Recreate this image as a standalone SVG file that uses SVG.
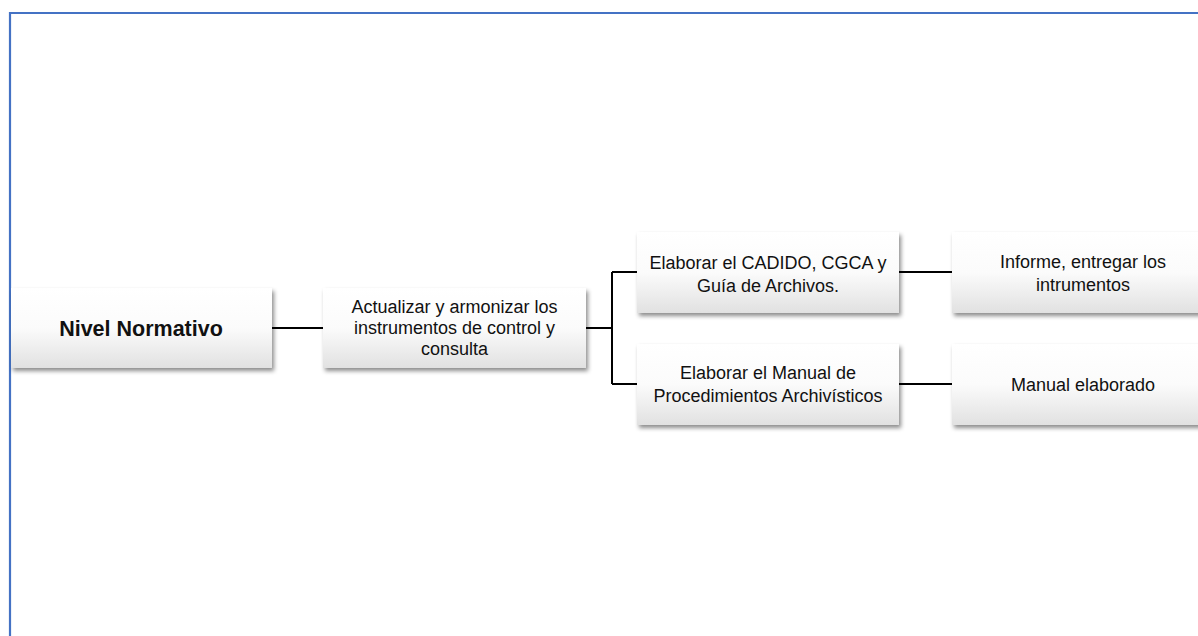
<svg xmlns="http://www.w3.org/2000/svg" width="1198" height="636" viewBox="0 0 1198 636">
<defs>
<linearGradient id="g" x1="0" y1="0" x2="0" y2="1">
<stop offset="0" stop-color="#ffffff"/>
<stop offset="0.5" stop-color="#fbfbfb"/>
<stop offset="1" stop-color="#e1e1e1"/>
</linearGradient>
<filter id="sh" x="-10%" y="-20%" width="120%" height="150%">
<feDropShadow dx="2" dy="3" stdDeviation="2" flood-color="#000" flood-opacity="0.45"/>
</filter>
</defs>
<style>
.box{fill:url(#g);filter:url(#sh);}
.t{font-family:"Liberation Sans",Arial,sans-serif;font-size:18px;fill:#111;text-anchor:middle;}
.b{font-family:"Liberation Sans",Arial,sans-serif;font-size:21.5px;font-weight:bold;fill:#111;text-anchor:middle;}
.c{stroke:#000;stroke-width:2;fill:none;}
</style>
<rect width="1198" height="636" fill="#fff"/>
<path d="M10,636 V13 H1198" fill="none" stroke="#4472c4" stroke-width="2.2"/>
<g id="connectors">
<path class="c" d="M272,328 H323"/>
<path class="c" d="M586,328 H612"/>
<path class="c" d="M612,272 V384"/>
<path class="c" d="M612,272 H637"/>
<path class="c" d="M612,384 H637"/>
<path class="c" d="M899,272 H952"/>
<path class="c" d="M899,384 H952"/>
</g>
<g id="n1">
<rect class="box" x="11" y="288" width="261" height="80"/>
<text class="b" x="141" y="336">Nivel Normativo</text>
</g>
<g id="n2">
<rect class="box" x="323" y="288" width="263" height="80"/>
<text class="t" x="454.5" y="313">Actualizar y armonizar los</text>
<text class="t" x="454.5" y="334">instrumentos de control y</text>
<text class="t" x="454.5" y="355">consulta</text>
</g>
<g id="n3">
<rect class="box" x="637" y="232" width="262" height="81"/>
<text class="t" x="768" y="269">Elaborar el CADIDO, CGCA y</text>
<text class="t" x="768" y="292">Guía de Archivos.</text>
</g>
<g id="n4">
<rect class="box" x="637" y="344" width="262" height="81"/>
<text class="t" x="768" y="379">Elaborar el Manual de</text>
<text class="t" x="768" y="402">Procedimientos Archivísticos</text>
</g>
<g id="n5">
<rect class="box" x="952" y="232" width="262" height="81"/>
<text class="t" x="1083" y="268">Informe, entregar los</text>
<text class="t" x="1083" y="291">intrumentos</text>
</g>
<g id="n6">
<rect class="box" x="952" y="344" width="262" height="81"/>
<text class="t" x="1083" y="391">Manual elaborado</text>
</g>
</svg>
